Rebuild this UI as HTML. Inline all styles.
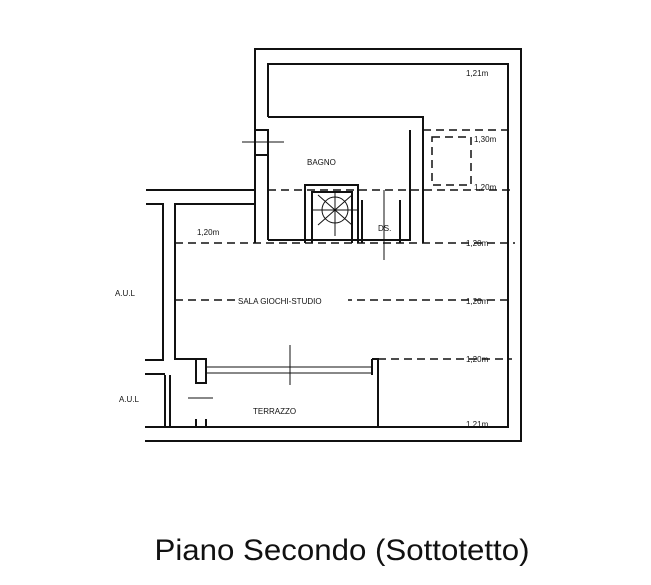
<!DOCTYPE html><html><head><style>body{margin:0;background:#fff}svg{display:block}text{font-family:"Liberation Sans",sans-serif;fill:#111}</style></head><body>
<svg width="651" height="585" viewBox="0 0 651 585" xmlns="http://www.w3.org/2000/svg">
<g stroke="#111" stroke-width="2" fill="none">
<path d="M255 190V49H521V441H145"/>
<path d="M268 240V130M268 117V64H508V427H145"/>
<path d="M268 117H423V243M410 130V240H268"/>
<path d="M146 190H255V243M146 204H163V360H145M175 243V204H255"/>
<path d="M175 243V359H206V383H196V359"/>
<path d="M165 375V427M170 375V427M145 374H165"/>
<path d="M372 359H378V427M372 359V375M196 419V427H206V419"/>
<path d="M305 243V185H358V243M312 243V192H352V243"/>
<path d="M362 200V243M400 200V243"/>
<path d="M255 130H268V155H255Z"/>
</g>
<g stroke="#111" stroke-width="1" fill="none">
<path d="M206 367H372M206 373H372M290 345V385M188 398H213M242 142H284M384 190V260"/>
<circle cx="335" cy="210" r="13"/>
<path d="M312 210H358M335 192V236M318 195L352 225M352 195L318 225"/>
</g>
<g stroke="#111" stroke-width="1.5" stroke-dasharray="8,5" fill="none">
<path d="M423 130H513M268 190H510M175 243H515M175 300H512M378 359H512"/>
<path d="M432 137H471V185H432Z"/>
</g>
<g font-size="8">
<rect x="236" y="295" width="112" height="10" fill="#fff"/>
<text x="466" y="76">1,21m</text><text x="474" y="142">1,30m</text><text x="474" y="190">1,20m</text>
<text x="466" y="246">1,20m</text><text x="466" y="304">1,20m</text><text x="466" y="362">1,20m</text><text x="466" y="427">1,21m</text>
<text x="307" y="165">BAGNO</text><text x="378" y="231">DS.</text><text x="197" y="235">1,20m</text>
<text x="238" y="304">SALA GIOCHI-STUDIO</text><text x="253" y="414">TERRAZZO</text>
<text x="115" y="296">A.U.L</text><text x="119" y="402">A.U.L</text>
</g>
<text x="342" y="560" font-size="30" text-anchor="middle" textLength="375" lengthAdjust="spacingAndGlyphs">Piano Secondo (Sottotetto)</text>
</svg></body></html>
